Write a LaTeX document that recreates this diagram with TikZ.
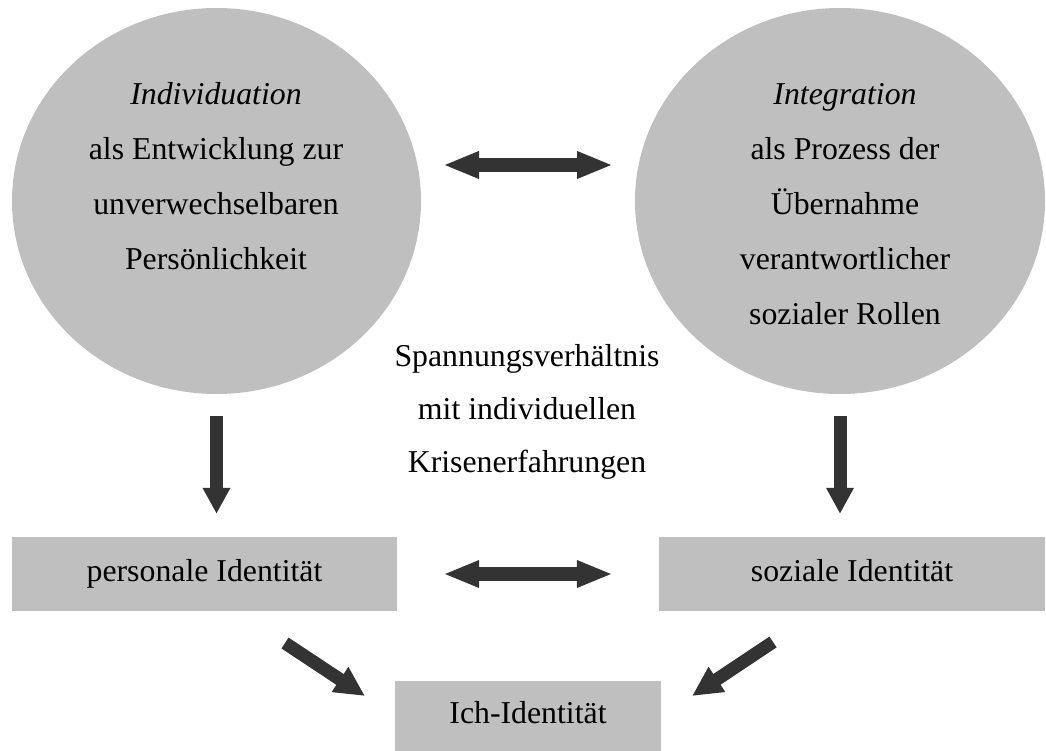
\documentclass[tikz,border=0pt]{standalone}
\usepackage{fontspec}
\setmainfont{Liberation Serif}
\usetikzlibrary{arrows.meta,shapes.geometric}
\definecolor{fillgray}{RGB}{191,191,191}
\definecolor{arrowgray}{RGB}{51,51,51}
\begin{document}
\begin{tikzpicture}[x=1pt,y=-1pt,
  txt/.style={font=\fontsize{31.8}{55}\selectfont, align=center, inner sep=0pt},
  blob/.style={ellipse, fill=fillgray, inner sep=0pt, minimum width=409pt, minimum height=386pt},
  box/.style={rectangle, fill=fillgray, inner sep=0pt, font=\fontsize{31.8}{38}\selectfont, text height=22pt, text depth=7.5pt},
  bigarrow/.style={draw=arrowgray, line width=13pt, -{Triangle[length=26pt,width=26pt]}},
  dblarrow/.style={draw=arrowgray, line width=14pt, {Triangle[length=36pt,width=25pt]}-{Triangle[length=36pt,width=25pt]}},
  diagarrow/.style={draw=arrowgray, line width=13pt, -{Triangle[length=30pt,width=28pt]}}]
\useasboundingbox (0,0) rectangle (1046,751);
\node[blob] (L) at (216.5,201) {};
\node[blob, minimum width=410pt] (R) at (840,201) {};
\node[txt] (Lt) at (216,176) {\textit{Individuation}\\als Entwicklung zur\\unverwechselbaren\\Persönlichkeit};
\node[txt] (Rt) at (845,204) {\textit{Integration}\\als Prozess der\\Übernahme\\verantwortlicher\\sozialer Rollen};
\node[txt, font=\fontsize{31.8}{53}\selectfont] (M) at (527,412) {Spannungsverhältnis\\mit individuellen\\Krisenerfahrungen};
\node[box, minimum width=385pt, minimum height=74pt] (P) at (204.5,574) {personale Identität};
\node[box, minimum width=386pt, minimum height=74pt] (S) at (852,574) {soziale Identität};
\node[box, minimum width=266pt, minimum height=70pt] (I) at (528,716) {Ich-Identität};
\draw[bigarrow, shorten <=22pt, shorten >=23pt] (L.south) -- (L.south |- P.north);
\draw[bigarrow, shorten <=22pt, shorten >=23pt] (R.south) -- (R.south |- S.north);
\coordinate (ta) at (443,165);
\coordinate (tb) at (613,165);
\draw[dblarrow] (ta) -- (tb);
\draw[dblarrow, shorten <=46pt, shorten >=46pt] (P.east) -- (S.west);
\coordinate (pa) at (285,643);
\coordinate (pb) at (365,696);
\draw[diagarrow] (pa) -- (pb);
\coordinate (sa) at (773,642);
\coordinate (sb) at (692,696);
\draw[diagarrow] (sa) -- (sb);
\end{tikzpicture}
\end{document}
